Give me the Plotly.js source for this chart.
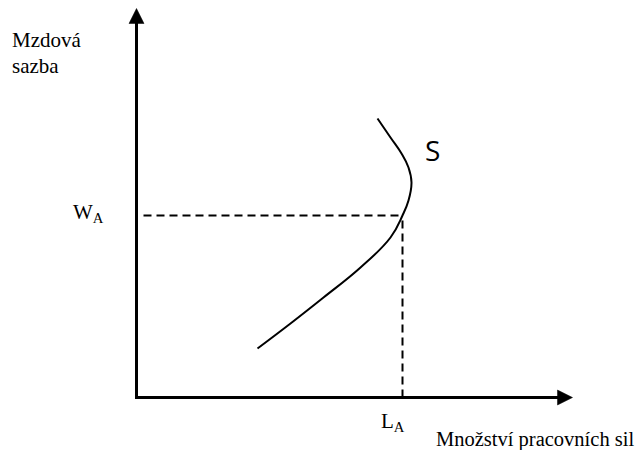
<!DOCTYPE html>
<html>
<head>
<meta charset="utf-8">
<script src="https://cdn.plot.ly/plotly-3.0.1.min.js"></script>
<style>html,body{margin:0;padding:0;background:#fff;}</style>
</head>
<body>
<div id="chart" style="width:643px;height:450px;"></div>
<script>
// Supply curve of labour (backward-bending)
const supplyL = [121, 154, 187, 224, 254, 266, 272, 275, 272, 265, 254, 241];
const supplyW = [49, 74, 100, 130, 160, 182, 197, 215, 230, 244, 260, 279];
// Equilibrium point
const lA = 266;
const wA = 182;
// Axis extents
const xAxisEnd = 436;
const yAxisEnd = 389;
// Labels
const yLabel = ["Mzdová", "sazba"];
const xLabel = "Množství pracovních sil";
const curveLabel = "S";
const wLabel = "W<sub>A</sub>";
const lLabel = "L<sub>A</sub>";

const serif = {family: "Liberation Serif", size: 21, color: "#000"};

const traces = [
  {x: supplyL, y: supplyW, mode: "lines", line: {color: "#000", width: 2, shape: "spline", smoothing: 1.2}, hoverinfo: "skip"},
  {x: [7, lA], y: [wA, wA], mode: "lines", line: {color: "#000", width: 2, dash: "8px,5px"}, hoverinfo: "skip"},
  {x: [lA, lA], y: [0, wA], mode: "lines", line: {color: "#000", width: 2, dash: "8px,5px"}, hoverinfo: "skip"}
];

const ah = 15, aw = 7.5;
const shapes = [
  {type: "line", x0: 0, y0: 0, x1: 0, y1: yAxisEnd - ah + 1, line: {color: "#000", width: 3}},
  {type: "line", x0: -1.5, y0: 0, x1: xAxisEnd - ah + 1, y1: 0, line: {color: "#000", width: 3}},
  {type: "path", path: `M ${-aw} ${yAxisEnd - ah} L 0 ${yAxisEnd} L ${aw} ${yAxisEnd - ah} Z`, fillcolor: "#000", line: {color: "#000", width: 0.5}},
  {type: "path", path: `M ${xAxisEnd - ah} ${-aw} L ${xAxisEnd} 0 L ${xAxisEnd - ah} ${aw} Z`, fillcolor: "#000", line: {color: "#000", width: 0.5}}
];

const annotations = [
  {x: -127, y: 358, text: yLabel[0], showarrow: false, xanchor: "left", yanchor: "middle", font: serif},
  {x: -127, y: 332, text: yLabel[1], showarrow: false, xanchor: "left", yanchor: "middle", font: serif},
  {x: -31, y: 185, text: wLabel, showarrow: false, xanchor: "right", yanchor: "middle", font: serif},
  {x: 242, y: -24, text: lLabel, showarrow: false, xanchor: "left", yanchor: "middle", font: serif},
  {x: 499, y: -42, text: xLabel, showarrow: false, xanchor: "right", yanchor: "middle", font: {family: "Liberation Serif", size: 20.5, color: "#000"}},
  {x: 296, y: 248, text: curveLabel, showarrow: false, xanchor: "center", yanchor: "middle", font: {family: "Open Sans", size: 28, color: "#000"}}
];

const layout = {
  width: 643, height: 450,
  margin: {l: 0, r: 0, t: 0, b: 0, pad: 0},
  paper_bgcolor: "#fff", plot_bgcolor: "#fff",
  showlegend: false,
  font: {family: "Liberation Serif", size: 21, color: "#000"},
  xaxis: {range: [-136.5, 506.5], visible: false, showgrid: false, zeroline: false, fixedrange: true},
  yaxis: {range: [-52.5, 397.5], visible: false, showgrid: false, zeroline: false, fixedrange: true},
  shapes: shapes,
  annotations: annotations
};

Plotly.newPlot("chart", traces, layout, {displayModeBar: false, staticPlot: true});
</script>
</body>
</html>
